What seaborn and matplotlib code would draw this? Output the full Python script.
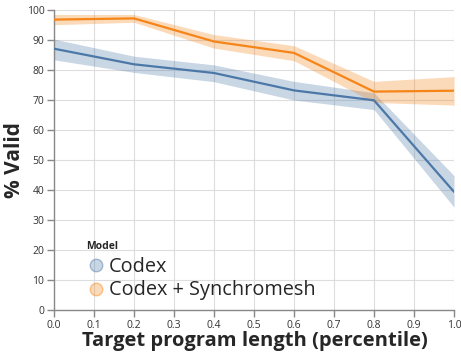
import matplotlib
matplotlib.use("Agg")
import matplotlib.pyplot as plt
from matplotlib.lines import Line2D
import seaborn as sns
import pandas as pd

x_vals = [0.0, 0.2, 0.4, 0.6, 0.8, 1.0]
codex_mean = [87.1, 81.9, 79.0, 73.2, 69.9, 39.4]
codex_lo = [83.4, 79.2, 76.1, 70.0, 66.8, 34.3]
codex_hi = [90.3, 84.6, 81.7, 76.2, 72.4, 44.8]
sync_mean = [96.8, 97.2, 89.5, 85.7, 72.8, 73.1]
sync_lo = [95.1, 95.9, 87.3, 83.1, 69.2, 68.3]
sync_hi = [98.5, 98.5, 91.8, 88.1, 76.2, 77.8]
models = ["Codex", "Codex + Synchromesh"]
colors = ["#4c78a8", "#f58518"]
x_ticks = [round(i * 0.1, 1) for i in range(11)]
y_ticks = list(range(0, 101, 10))

df = pd.DataFrame({
    "x": x_vals * 2,
    "y": codex_mean + sync_mean,
    "lo": codex_lo + sync_lo,
    "hi": codex_hi + sync_hi,
    "Model": [models[0]] * len(x_vals) + [models[1]] * len(x_vals),
})

sns.set_style("white")
plt.rcParams["font.family"] = ["Open Sans", "DejaVu Sans"]

W, H = 461, 356
fig = plt.figure(figsize=(W / 100, H / 100), dpi=100)
ax = fig.add_axes([54 / W, 46 / H, 400 / W, 300 / H])

for m, c in zip(models, colors):
    sub = df[df["Model"] == m]
    ax.fill_between(sub["x"], sub["lo"], sub["hi"], color=c, alpha=0.3, linewidth=0, zorder=2)

sns.lineplot(data=df, x="x", y="y", hue="Model", palette=colors, linewidth=1.6,
             ax=ax, legend=False, zorder=3)

ax.set_xlim(0, 1)
ax.set_ylim(0, 100)
ax.set_xticks(x_ticks)
ax.set_xticklabels([f"{t:.1f}" for t in x_ticks])
ax.set_yticks(y_ticks)
ax.grid(True, color="#dddddd", linewidth=0.8, zorder=0)
ax.set_axisbelow(True)
for s in ["top", "right"]:
    ax.spines[s].set_visible(False)
for s in ["left", "bottom"]:
    ax.spines[s].set_color("#888888")
    ax.spines[s].set_linewidth(1)
ax.tick_params(axis="both", which="both", length=5, width=1, color="#888888",
               labelsize=7.5, labelcolor="#333333", direction="out", pad=2,
               bottom=True, left=True)
ax.set_xlabel("")
ax.set_ylabel("")

fig.text(255 / W, (H - 341) / H, "Target program length (percentile)", fontsize=14.5,
         fontweight="bold", ha="center", va="center")
fig.text(15 / W, (H - 160) / H, "% Valid", fontsize=15, fontweight="bold",
         rotation=90, ha="center", va="center")

handles = [Line2D([0], [0], marker="o", linestyle="", markersize=9,
                  markerfacecolor=matplotlib.colors.to_rgba(c, 0.3),
                  markeredgecolor=matplotlib.colors.to_rgba(c, 0.45), markeredgewidth=1)
           for c in colors]
leg = ax.legend(handles, models, title="Model", loc="lower left",
                bbox_to_anchor=(0.05, -0.008), frameon=False, fontsize=14.3,
                handletextpad=0.15, labelspacing=0.2, borderaxespad=0.2,
                handlelength=1.0)
leg.get_title().set_fontweight("bold")
leg.get_title().set_fontsize(7.5)
leg._legend_box.align = "left"
leg._legend_box.sep = 3

fig.savefig("out.png", dpi=100)
